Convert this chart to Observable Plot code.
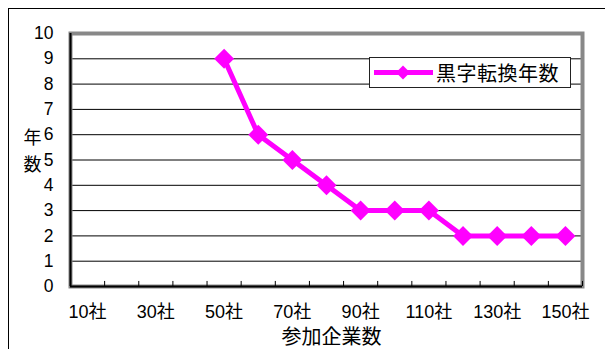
<!DOCTYPE html>
<html>
<head>
<meta charset="utf-8">
<script src="https://cdn.jsdelivr.net/npm/d3@7"></script>
<script src="https://cdn.jsdelivr.net/npm/@observablehq/plot@0.6"></script>
<style>
  html, body { margin: 0; padding: 0; background: #fff; }
  #wrap { position: relative; width: 605px; height: 349px; overflow: hidden;
    font-family: "Liberation Sans", "Noto Sans CJK JP", sans-serif; }
  #outer { position: absolute; left: 8px; top: 8px; width: 700px; height: 400px;
    border-top: 1px solid #000; border-left: 1px solid #000; box-sizing: border-box; }
  #chart { position: absolute; left: 0; top: 0; }
  #legend { position: absolute; left: 369px; top: 57px; width: 202px; height: 31px;
    border: 1px solid #222; background: #fff; box-sizing: border-box;
    display: flex; align-items: center; }
  #legend span { font-size: 20px; color: #000; margin-left: 2px; letter-spacing: 0.5px;
    font-family: "Noto Sans CJK JP", sans-serif; }
</style>
</head>
<body>
<div id="wrap">
  <div id="outer"></div>
  <div id="chart"></div>
  <div id="legend"></div>
</div>
<script>
// Data
const seriesName = "黒字転換年数";
const companies = [50, 60, 70, 80, 90, 100, 110, 120, 130, 140, 150];
const years = [9, 6, 5, 4, 3, 3, 3, 2, 2, 2, 2];
const xTickLabels = [10, 30, 50, 70, 90, 110, 130, 150];
const xTickMarks = [15, 25, 35, 45, 55, 65, 75, 85, 95, 105, 115, 125, 135, 145, 155];
const yTicks = [0, 1, 2, 3, 4, 5, 6, 7, 8, 9, 10];
const xTitle = "参加企業数";
const yTitle = "年\n数";

const data = companies.map((c, i) => ({c, y: years[i]}));
const magenta = "#ff00ff";
const fam = '"Liberation Sans", "Noto Sans CJK JP", sans-serif';

const chart = Plot.plot({
  width: 605,
  height: 349,
  marginLeft: 70,
  marginRight: 23,
  marginTop: 33,
  marginBottom: 63,
  x: {domain: [5, 155]},
  y: {domain: [0, 10]},
  style: {
    fontFamily: fam,
    fontSize: "17px",
    color: "#000",
    background: "transparent"
  },
  marks: [
    Plot.gridY(yTicks, {stroke: "#000", strokeOpacity: 1, strokeWidth: 1}),
    Plot.frame({stroke: "#888", strokeWidth: 4}),
    Plot.ruleX([5], {stroke: "#000", strokeWidth: 2}),
    Plot.ruleY([0], {stroke: "#000", strokeWidth: 2}),
    Plot.ruleX(xTickMarks, {y1: 0, y2: 0.2, stroke: "#000", strokeWidth: 1}),
    Plot.axisY({ticks: yTicks, tickSize: 0, tickPadding: 17, label: null, fontSize: 17.5}),
    Plot.axisX({ticks: xTickLabels, tickSize: 0, tickPadding: 19, tickFormat: d => d + "社", label: null, fontSize: 18}),
    Plot.text([yTitle], {frameAnchor: "left", lineAnchor: "middle", dx: -47, dy: -11, text: d => d, fontSize: 18, lineHeight: 1.5, fontFamily: fam}),
    Plot.text([xTitle], {frameAnchor: "bottom", lineAnchor: "middle", dx: 5, dy: 51, text: d => d, fontSize: 20, fontFamily: fam}),
    Plot.line(data, {x: "c", y: "y", stroke: magenta, strokeWidth: 5}),
    Plot.dot(data, {x: "c", y: "y", symbol: "diamond2", r: 9, fill: magenta, stroke: "none"})
  ]
});
document.getElementById("chart").appendChild(chart);

// Legend
const legend = document.getElementById("legend");
legend.innerHTML = `<svg width="64" height="29"><line x1="4" x2="63" y1="14.5" y2="14.5" stroke="${magenta}" stroke-width="5"/><path d="M33,7.5L40,14.5L33,21.5L26,14.5Z" fill="${magenta}"/></svg><span>${seriesName}</span>`;
</script>
</body>
</html>
